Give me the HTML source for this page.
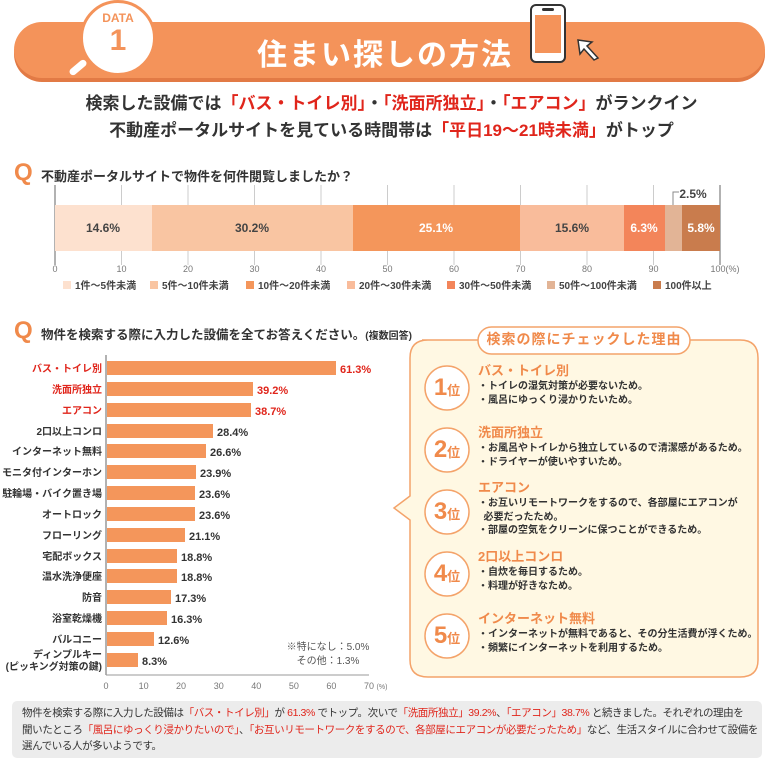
<!DOCTYPE html>
<html><head><meta charset="utf-8"><style>
*{margin:0;padding:0;box-sizing:border-box}
body{width:783px;height:768px;background:#fff;position:relative;overflow:hidden;font-family:"Liberation Sans","Noto Sans CJK JP",sans-serif;color:#333}
.a{position:absolute}
.r{color:#e0251b}
.o{color:#f08a4b}
.rk{position:absolute;width:44px;height:30px;display:flex;align-items:baseline;justify-content:center;color:#f08a4b;font-weight:bold;font-size:24px;line-height:30px}
.rk span{font-size:13px}
</style></head><body>
<!-- header -->
<div class="a" style="left:14px;top:22px;width:751px;height:56px;border-radius:28px;background:#f4935a;box-shadow:0 4px 0 #e27a45"></div>
<div class="a" style="left:66px;top:62px;width:24px;height:11px;background:#fff;border:2px solid #f4935a;border-radius:6px;transform:rotate(-40deg)"></div>
<div class="a" style="left:80px;top:0px;width:76px;height:76px;border-radius:50%;background:#fff;border:3px solid #f4935a"></div>
<div class="a" style="left:80px;top:11px;width:76px;text-align:center;color:#f4935a;font-weight:bold;font-size:12px">DATA</div>
<div class="a" style="left:80px;top:24px;width:76px;text-align:center;color:#f4935a;font-weight:bold;font-size:30px">1</div>
<div class="a" style="left:255px;top:30px;width:260px;text-align:center;color:#fff;font-weight:bold;font-size:30px;letter-spacing:2px">住まい探しの方法</div>
<div class="a" style="left:530px;top:4px;width:36px;height:59px;background:#fff;border:2px solid #333;border-radius:6px"></div>
<div class="a" style="left:535px;top:15px;width:26px;height:38px;background:#f4935a"></div>
<div class="a" style="left:542px;top:8px;width:12px;height:3px;background:#333;border-radius:2px"></div>
<svg class="a" style="left:576px;top:38px" width="28" height="24"><polygon points="2,2 16,4 11,8 22,20 18,22 8,11 4,16" fill="#fff" stroke="#333" stroke-width="1.5"/></svg>
<div class="a" style="left:0;top:90px;width:783px;text-align:center;font-weight:bold;font-size:17px;line-height:27px">検索した設備では<span class="r">「バス・トイレ別」</span>・<span class="r">「洗面所独立」</span>・<span class="r">「エアコン」</span>がランクイン<br>不動産ポータルサイトを見ている時間帯は<span class="r">「平日19〜21時未満」</span>がトップ</div>

<!-- Q1 -->
<div class="a o" style="left:14px;top:160px;font-size:24px;font-weight:bold;line-height:26px">Q</div>
<div class="a" style="left:41px;top:166px;font-size:13px;font-weight:bold">不動産ポータルサイトで物件を何件閲覧しましたか？</div>
<svg class="a" style="left:0;top:185px" width="783" height="110">
<g stroke="#ccc" stroke-width="1">
<line x1="55" y1="0" x2="55" y2="80" stroke="#666"/><line x1="121.5" y1="0" x2="121.5" y2="80"/><line x1="188" y1="0" x2="188" y2="80"/><line x1="254.5" y1="0" x2="254.5" y2="80"/><line x1="321" y1="0" x2="321" y2="80"/><line x1="387.5" y1="0" x2="387.5" y2="80"/><line x1="454" y1="0" x2="454" y2="80"/><line x1="520.5" y1="0" x2="520.5" y2="80"/><line x1="587" y1="0" x2="587" y2="80"/><line x1="653.5" y1="0" x2="653.5" y2="80"/><line x1="720" y1="0" x2="720" y2="80" stroke="#666"/></g>
<rect x="55" y="20" width="97" height="46" fill="#fde1cf"/>
<rect x="152" y="20" width="201" height="46" fill="#f9c5a2"/>
<rect x="353" y="20" width="167" height="46" fill="#f4965b"/>
<rect x="520" y="20" width="104" height="46" fill="#f9bc9b"/>
<rect x="624" y="20" width="41" height="46" fill="#f3855a"/>
<rect x="665" y="20" width="17" height="46" fill="#e2b496"/>
<rect x="682" y="20" width="38" height="46" fill="#c97c4d"/>
<polyline points="673,20 673,7 679,7" fill="none" stroke="#888"/>
<g font-size="12" font-weight="bold" text-anchor="middle" fill="#444">
<text x="103" y="47">14.6%</text><text x="252" y="47">30.2%</text><text x="436" y="47" fill="#fff">25.1%</text><text x="572" y="47">15.6%</text><text x="644" y="47" fill="#fff">6.3%</text><text x="701" y="47" fill="#fff">5.8%</text><text x="693" y="13">2.5%</text></g>
<g font-size="9" fill="#777" text-anchor="middle"><text x="55" y="87">0</text><text x="121.5" y="87">10</text><text x="188" y="87">20</text><text x="254.5" y="87">30</text><text x="321" y="87">40</text><text x="387.5" y="87">50</text><text x="454" y="87">60</text><text x="520.5" y="87">70</text><text x="587" y="87">80</text><text x="653.5" y="87">90</text><text x="725" y="87">100(%)</text></g>
<g font-size="10" font-weight="bold" fill="#444">
<rect x="63" y="96" width="8" height="8" fill="#fde1cf"/><text x="75" y="104">1件〜5件未満</text>
<rect x="150" y="96" width="8" height="8" fill="#f9c5a2"/><text x="162" y="104">5件〜10件未満</text>
<rect x="246" y="96" width="8" height="8" fill="#f4965b"/><text x="258" y="104">10件〜20件未満</text>
<rect x="347" y="96" width="8" height="8" fill="#f9bc9b"/><text x="359" y="104">20件〜30件未満</text>
<rect x="447" y="96" width="8" height="8" fill="#f3855a"/><text x="459" y="104">30件〜50件未満</text>
<rect x="547" y="96" width="8" height="8" fill="#e2b496"/><text x="559" y="104">50件〜100件未満</text>
<rect x="653" y="96" width="8" height="8" fill="#c97c4d"/><text x="665" y="104">100件以上</text></g>
</svg>

<!-- Q2 -->
<div class="a o" style="left:14px;top:318px;font-size:24px;font-weight:bold;line-height:26px">Q</div>
<div class="a" style="left:41px;top:324px;font-size:12.5px;font-weight:bold;white-space:nowrap">物件を検索する際に入力した設備を全てお答えください。<span style="font-size:10px">(複数回答)</span></div>
<svg class="a" style="left:0;top:350px" width="400" height="345">
<line x1="106" y1="5" x2="106" y2="325" stroke="#666"/>
<line x1="106" y1="325" x2="369" y2="325" stroke="#999"/>
<g font-size="9" fill="#777" text-anchor="middle"><text x="106" y="339">0</text><text x="143.6" y="339">10</text><text x="181" y="339">20</text><text x="218.7" y="339">30</text><text x="256.3" y="339">40</text><text x="293.9" y="339">50</text><text x="331.4" y="339">60</text><text x="369" y="339">70</text><text x="382" y="339" font-size="7">(%)</text></g>
<g fill="#f4965b">
<rect x="107" y="11" width="229" height="14"/><rect x="107" y="32" width="146" height="14"/><rect x="107" y="53" width="144" height="14"/><rect x="107" y="74" width="106" height="14"/><rect x="107" y="94" width="99" height="14"/><rect x="107" y="115" width="89" height="14"/><rect x="107" y="136" width="88" height="14"/><rect x="107" y="157" width="88" height="14"/><rect x="107" y="178" width="78" height="14"/><rect x="107" y="199" width="70" height="14"/><rect x="107" y="219" width="70" height="14"/><rect x="107" y="240" width="64" height="14"/><rect x="107" y="261" width="60" height="14"/><rect x="107" y="282" width="47" height="14"/><rect x="107" y="303" width="31" height="14"/></g>
<g font-size="10" font-weight="bold" text-anchor="end" fill="#333">
<text x="102" y="22" fill="#e0251b">バス・トイレ別</text><text x="102" y="43" fill="#e0251b">洗面所独立</text><text x="102" y="64" fill="#e0251b">エアコン</text><text x="102" y="85">2口以上コンロ</text><text x="102" y="105">インターネット無料</text><text x="102" y="126">モニタ付インターホン</text><text x="102" y="147">駐輪場・バイク置き場</text><text x="102" y="168">オートロック</text><text x="102" y="189">フローリング</text><text x="102" y="210">宅配ボックス</text><text x="102" y="230">温水洗浄便座</text><text x="102" y="251">防音</text><text x="102" y="272">浴室乾燥機</text><text x="102" y="293">バルコニー</text><text x="102" y="308">ディンプルキー</text><text x="102" y="320">(ピッキング対策の鍵)</text></g>
<g font-size="11" font-weight="bold" fill="#333">
<text x="340" y="23" fill="#e0251b">61.3%</text><text x="257" y="44" fill="#e0251b">39.2%</text><text x="255" y="65" fill="#e0251b">38.7%</text><text x="217" y="86">28.4%</text><text x="210" y="106">26.6%</text><text x="200" y="127">23.9%</text><text x="199" y="148">23.6%</text><text x="199" y="169">23.6%</text><text x="189" y="190">21.1%</text><text x="181" y="211">18.8%</text><text x="181" y="231">18.8%</text><text x="175" y="252">17.3%</text><text x="171" y="273">16.3%</text><text x="158" y="294">12.6%</text><text x="142" y="315">8.3%</text></g>
<g font-size="10" fill="#555" text-anchor="middle"><text x="328" y="300">※特になし：5.0%</text><text x="328" y="314">その他：1.3%</text></g>
</svg>

<!-- right panel -->
<svg class="a" style="left:390px;top:320px" width="393" height="365">
<path d="M32,20 H350 Q368,20 368,38 V340 Q368,357 350,357 H38 Q20,357 20,340 V200 L4,188 L20,176 V38 Q20,20 38,20 Z" fill="#fff8e3" stroke="#f4a36a" stroke-width="1.5"/>
<rect x="88" y="7" width="212" height="27" rx="13.5" fill="#fff" stroke="#f4a36a" stroke-width="1.5"/>
<g fill="#fff" stroke="#f4a36a" stroke-width="1.5"><circle cx="57" cy="68" r="22"/><circle cx="57" cy="130" r="22"/><circle cx="57" cy="192" r="22"/><circle cx="57" cy="254" r="22"/><circle cx="57" cy="316" r="22"/></g>
</svg>
<div class="a o" style="left:478px;top:329px;width:212px;text-align:center;font-size:14px;font-weight:bold;letter-spacing:1px">検索の際にチェックした理由</div>
<div class="rk" style="left:425px;top:373px">1<span>位</span></div>
<div class="rk" style="left:425px;top:435px">2<span>位</span></div>
<div class="rk" style="left:425px;top:497px">3<span>位</span></div>
<div class="rk" style="left:425px;top:559px">4<span>位</span></div>
<div class="rk" style="left:425px;top:621px">5<span>位</span></div>
<div class="a" style="left:478px;top:362px;font-size:10px;font-weight:bold;line-height:13.5px">
<div class="o" style="font-size:13px;line-height:18px">バス・トイレ別</div>・トイレの湿気対策が必要ないため。<br>・風呂にゆっくり浸かりたいため。</div>
<div class="a" style="left:478px;top:424px;font-size:10px;font-weight:bold;line-height:13.5px">
<div class="o" style="font-size:13px;line-height:18px">洗面所独立</div>・お風呂やトイレから独立しているので清潔感があるため。<br>・ドライヤーが使いやすいため。</div>
<div class="a" style="left:478px;top:479px;font-size:10px;font-weight:bold;line-height:13.5px">
<div class="o" style="font-size:13px;line-height:18px">エアコン</div>・お互いリモートワークをするので、各部屋にエアコンが<br>&nbsp;&nbsp;必要だったため。<br>・部屋の空気をクリーンに保つことができるため。</div>
<div class="a" style="left:478px;top:548px;font-size:10px;font-weight:bold;line-height:13.5px">
<div class="o" style="font-size:13px;line-height:18px">2口以上コンロ</div>・自炊を毎日するため。<br>・料理が好きなため。</div>
<div class="a" style="left:478px;top:610px;font-size:10px;font-weight:bold;line-height:13.5px">
<div class="o" style="font-size:13px;line-height:18px">インターネット無料</div>・インターネットが無料であると、その分生活費が浮くため。<br>・頻繁にインターネットを利用するため。</div>

<!-- bottom -->
<div class="a" style="left:12px;top:701px;width:750px;height:57px;background:#ececec;border-radius:5px;padding:4px 10px;font-size:10.5px;line-height:16.5px;color:#333;white-space:nowrap;letter-spacing:-0.4px">物件を検索する際に入力した設備は<span class="r">「バス・トイレ別」</span>が<span class="r"> 61.3% </span>でトップ。次いで<span class="r">「洗面所独立」39.2%</span>、<span class="r">「エアコン」38.7%</span> と続きました。それぞれの理由を<br>聞いたところ<span class="r">「風呂にゆっくり浸かりたいので」</span>、<span class="r">「お互いリモートワークをするので、各部屋にエアコンが必要だったため」</span>など、生活スタイルに合わせて設備を<br>選んでいる人が多いようです。</div>
</body></html>
